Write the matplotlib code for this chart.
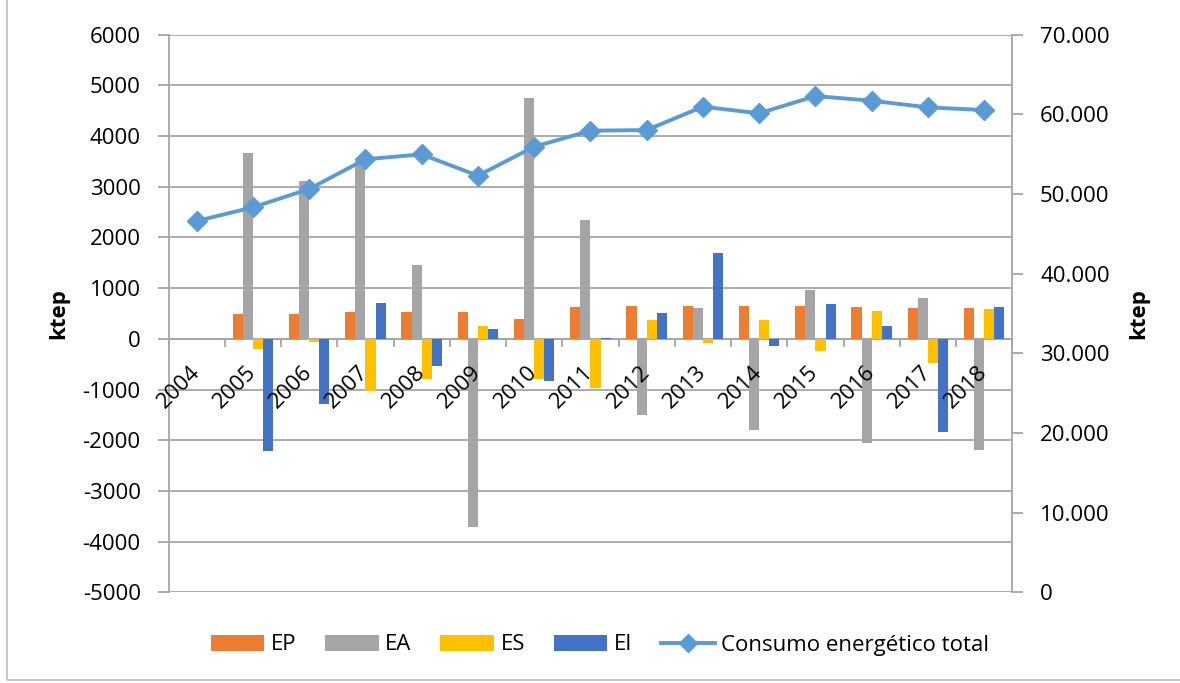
import numpy as np
import matplotlib
matplotlib.use("Agg")
import matplotlib.pyplot as plt
from matplotlib.patches import Rectangle, Patch
from matplotlib.lines import Line2D
from matplotlib.ticker import FuncFormatter, MultipleLocator, FixedLocator

plt.rcParams['font.family'] = ['Open Sans', 'DejaVu Sans']
plt.rcParams['axes.unicode_minus'] = False

years = ['2004', '2005', '2006', '2007', '2008', '2009', '2010', '2011',
         '2012', '2013', '2014', '2015', '2016', '2017', '2018']

nan = np.nan
ep = [nan, 487, 500, 520, 533, 526, 395, 638, 645, 651, 651, 645, 638, 618, 599]
ea = [nan, 3671, 3112, 3513, 1447, -3705, 4757, 2336, -1493, 618, -1789, 954, -2053, 809, -2197]
es = [nan, -197, -59, -1026, -790, 257, -789, -967, 375, -86, 375, -230, 553, -467, 579]
ei = [nan, -2217, -1276, 704, -526, 197, -836, 26, 513, 1691, -132, 691, 250, -1829, 625]
consumo_total = [46610, 48330, 50630, 54360, 54980, 52300, 55940, 57950,
                 58030, 60960, 60130, 62300, 61710, 60880, 60540]

series_names = ['EP', 'EA', 'ES', 'EI']
series_values = [ep, ea, es, ei]
colors = ['#ED7D31', '#A5A5A5', '#FFC000', '#4472C4']
line_color = '#5B9BD5'
grid_color = '#A6A6A6'
fs = 16

W, H = 1180, 683
fig = plt.figure(figsize=(W / 100, H / 100), dpi=100)
ax = fig.add_axes([168.5 / W, 1 - 592.3 / H, (1012.3 - 168.5) / W, (592.3 - 34.7) / H])

x = np.arange(len(years))
bw = 0.18
for k, (name, vals, c) in enumerate(zip(series_names, series_values, colors)):
    ax.bar(x + (k - 1.5) * bw, vals, width=bw, color=c, label=name, zorder=2)

ax.set_xlim(-0.5, len(years) - 0.5)
ax.set_ylim(-5000, 6000)
ax.yaxis.set_major_locator(MultipleLocator(1000))
ax.yaxis.grid(True, color=grid_color, linewidth=1.3)
ax.set_axisbelow(True)

for s in ['top', 'right']:
    ax.spines[s].set_visible(False)
ax.spines['left'].set_color(grid_color)
ax.spines['left'].set_linewidth(1.3)
ax.spines['bottom'].set_position(('data', 0))
ax.spines['bottom'].set_color(grid_color)
ax.spines['bottom'].set_linewidth(1.3)
ax.spines['bottom'].set_zorder(1)

# category labels sit on top of the bars, slanted along the zero line
ax.set_xticks(x)
ax.set_xticklabels([])
for i, yr in zip(x, years):
    ax.annotate(yr, xy=(i, 0), xycoords='data', xytext=(0, -22),
                textcoords='offset points', rotation=45, rotation_mode='anchor',
                ha='right', va='center', fontsize=fs, zorder=10,
                annotation_clip=False)
ax.xaxis.set_minor_locator(FixedLocator(np.arange(-0.5, len(years), 1.0)))
ax.tick_params(axis='x', which='major', length=0)
ax.tick_params(axis='x', which='minor', length=6, width=1.3, color=grid_color, direction='out')
ax.tick_params(axis='y', length=8, width=1.3, color=grid_color, labelsize=fs, pad=12)

ax2 = ax.twinx()
ax2.plot(x, consumo_total, color=line_color, linewidth=2.8, marker='D',
         markersize=10.5, zorder=3)
ax2.set_ylim(0, 70000)
ax2.yaxis.set_major_locator(MultipleLocator(10000))
ax2.yaxis.set_major_formatter(FuncFormatter(
    lambda v, p: '0' if v == 0 else f'{v:,.0f}'.replace(',', '.')))
for s in ['top', 'left', 'bottom']:
    ax2.spines[s].set_visible(False)
ax2.spines['right'].set_color(grid_color)
ax2.spines['right'].set_linewidth(1.3)
ax2.tick_params(axis='y', length=8, width=1.3, color=grid_color, labelsize=fs, pad=12)

fig.text(59 / W, 1 - 314 / H, 'ktep', rotation=90, ha='center', va='center',
         fontsize=fs, fontweight='bold')
fig.text(1139 / W, 1 - 314 / H, 'ktep', rotation=90, ha='center', va='center',
         fontsize=fs, fontweight='bold')

handles = [Patch(facecolor=c, edgecolor='none') for c in colors]
handles.append(Line2D([], [], color=line_color, linewidth=2.8, marker='D', markersize=9))
labels = series_names + ['Consumo energético total']
fig.legend(handles, labels, loc='center', bbox_to_anchor=(600 / W, 1 - 645 / H),
           ncol=5, frameon=False, fontsize=fs, handlelength=2.4, handleheight=0.7,
           handletextpad=0.3, columnspacing=1.3)

fig.add_artist(Rectangle((6.5 / W, 3 / H), 1.1, 1.1, transform=fig.transFigure,
                         fill=False, edgecolor='#BFBFBF', linewidth=1.3))

fig.savefig('out.png', dpi=100)
